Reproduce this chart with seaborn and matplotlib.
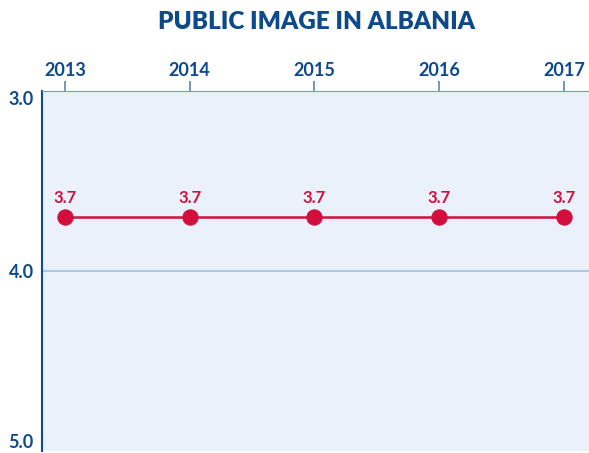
import pandas as pd
import matplotlib.pyplot as plt
import seaborn as sns

# Public image scores by year
data = {
    'Year': [2013, 2014, 2015, 2016, 2017],
    'Score': [3.7, 3.7, 3.7, 3.7, 3.7]
}

# Creating the DataFrame
public_image = pd.DataFrame(data)

plt.rcParams['font.family'] = ['Lato', 'DejaVu Sans']
navy = '#0d4a8c'
red = '#d20f3c'

# Line chart with inverted scale and years on top
fig = plt.figure(figsize=(5.89, 4.53), dpi=100)
ax = fig.add_axes([0.0713, 0.004, 0.9287, 0.795])
ax.set_facecolor('#eaf1fa')
sns.lineplot(data=public_image, x='Year', y='Score', color=red, linewidth=1.8,
             marker='o', markersize=11, markeredgecolor=red, ax=ax, zorder=3)
for year, score in zip(public_image['Year'], public_image['Score']):
    ax.annotate(f'{score:.1f}', (year, score), xytext=(0, 8), textcoords='offset points',
                ha='center', va='bottom', color=red, fontsize=12, fontweight='bold')

ax.axhline(4.0, color='#a8c8ea', linewidth=1.5, zorder=1)
ax.set_xlim(2012.816, 2017.2)
ax.set_ylim(5.0, 3.0)
ax.set_xticks(public_image['Year'])
ax.set_yticks([3.0, 4.0, 5.0])
ax.set_yticklabels(['3.0', '4.0', '5.0'])
ax.xaxis.tick_top()
ax.tick_params(axis='x', colors=navy, labelsize=13, length=7, width=1.2, color='#5a85b5', pad=2)
ax.tick_params(axis='y', colors=navy, labelsize=13, length=0, pad=6)
for label in ax.get_xticklabels() + ax.get_yticklabels():
    label.set_fontweight('bold')
ax.get_yticklabels()[0].set_va('top')  # keep 3.0 just under the top edge
ax.get_yticklabels()[-1].set_va('bottom')  # keep 5.0 inside the picture
ax.spines['top'].set_color('#7a9cc4')
ax.spines['left'].set_color(navy)
ax.spines['left'].set_linewidth(1.5)
ax.spines['right'].set_visible(False)
ax.spines['bottom'].set_visible(False)
ax.set_xlabel('')
ax.set_ylabel('')
fig.text(0.537, 0.951, 'PUBLIC IMAGE IN ALBANIA', ha='center', va='center',
         color=navy, fontsize=17.5, fontweight='heavy')
fig.savefig('out.png', dpi=100)
